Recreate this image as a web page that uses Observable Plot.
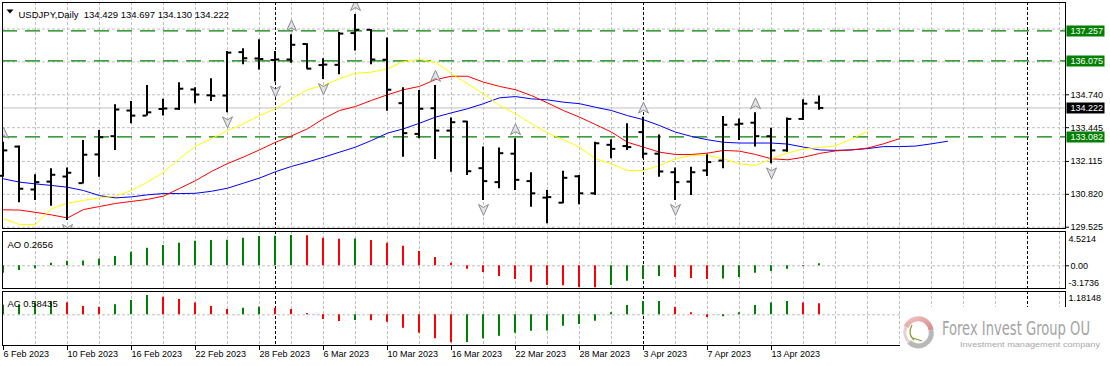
<!DOCTYPE html>
<html>
<head>
<meta charset="utf-8">
<script src="https://cdn.jsdelivr.net/npm/d3@7"></script>
<script src="https://cdn.jsdelivr.net/npm/@observablehq/plot@0.6"></script>
<style>
  html,body{margin:0;padding:0;background:#fff;}
  #chart{position:relative;width:1110px;height:366px;overflow:hidden;background:#fff;}
  #wm{position:absolute;left:900px;top:307px;width:210px;height:46px;background:#fff;}
</style>
</head>
<body>
<div id="chart"></div>
<script>
// ---------------- DATA ----------------
const symbolName = "USDJPY";
const timeframe = "Daily";
const dates = [
  "2023-02-06","2023-02-07","2023-02-08","2023-02-09","2023-02-10",
  "2023-02-13","2023-02-14","2023-02-15","2023-02-16","2023-02-17",
  "2023-02-20","2023-02-21","2023-02-22","2023-02-23","2023-02-24",
  "2023-02-27","2023-02-28","2023-03-01","2023-03-02","2023-03-03",
  "2023-03-06","2023-03-07","2023-03-08","2023-03-09","2023-03-10",
  "2023-03-13","2023-03-14","2023-03-15","2023-03-16","2023-03-17",
  "2023-03-20","2023-03-21","2023-03-22","2023-03-23","2023-03-24",
  "2023-03-27","2023-03-28","2023-03-29","2023-03-30","2023-03-31",
  "2023-04-03","2023-04-04","2023-04-05","2023-04-06","2023-04-07",
  "2023-04-10","2023-04-11","2023-04-12","2023-04-13","2023-04-14",
  "2023-04-17","2023-04-18"
];
const open = [131.55,132.70,131.01,131.32,131.52,131.26,132.39,133.11,134.12,133.92,
  134.18,134.19,134.95,134.72,134.71,136.42,136.17,136.11,136.13,136.74,
  135.91,135.92,137.17,137.30,136.12,134.41,133.20,134.21,133.33,133.69,
  131.85,131.30,132.42,131.34,130.69,130.49,131.53,130.86,132.77,132.72,
  133.27,132.42,131.69,131.32,131.76,132.15,133.57,133.64,133.11,132.55,
  133.79,134.429];
const high = [132.87,132.72,131.59,131.83,131.86,132.94,133.33,134.35,134.48,135.11,
  134.56,135.21,135.02,135.37,136.45,136.55,136.91,136.45,137.10,136.75,
  136.16,137.19,137.90,137.31,136.98,135.02,134.91,135.11,133.83,133.70,
  132.68,132.64,133.01,131.67,130.97,131.73,131.56,132.87,132.97,133.60,
  133.86,133.16,131.86,131.89,132.38,133.89,133.79,134.03,133.42,133.83,
  134.54,134.697];
const low = [131.49,130.49,130.58,130.35,129.79,131.23,131.49,132.55,133.60,133.90,
  133.90,134.12,134.39,134.48,134.03,135.92,135.72,135.24,135.98,135.76,
  135.34,135.53,136.46,135.92,134.09,132.28,133.01,132.19,131.69,131.56,
  130.58,131.04,130.97,130.31,129.66,130.45,130.41,130.77,132.22,132.55,
  132.22,131.49,130.58,130.77,131.52,131.83,132.94,132.68,132.02,132.48,
  133.73,134.130];
const close = [132.55,131.04,131.30,131.59,131.67,132.38,133.07,134.16,133.92,134.05,
  134.20,134.98,134.75,134.70,136.40,136.18,136.15,136.13,136.71,135.77,
  135.93,137.15,137.30,136.13,134.94,133.23,134.19,133.33,133.66,131.73,
  131.34,132.44,131.39,130.86,130.71,131.47,130.86,132.83,132.61,132.68,
  132.42,131.72,131.30,131.69,132.09,133.56,133.60,133.11,132.55,133.79,
  134.39,134.222];

// Alligator lines (they run past the last bar)
const lips = [129.86,129.63,129.63,130.25,130.47,130.58,130.68,130.75,130.97,131.30,
  131.69,132.22,132.72,133.01,133.33,133.60,133.92,134.19,134.58,134.94,
  135.11,135.37,135.59,135.63,135.76,136.05,136.13,136.02,135.57,135.17,
  134.78,134.32,133.99,133.60,133.24,132.97,132.68,132.22,132.02,131.76,
  131.76,131.96,132.22,132.35,132.35,132.22,132.02,131.96,132.22,132.45,
  132.61,132.66,132.73,133.00,133.29];
const teeth = [130.21,130.20,130.11,130.01,129.89,130.22,130.34,130.46,130.54,130.62,
  130.75,131.05,131.36,131.72,132.03,132.29,132.57,132.87,133.12,133.40,
  133.80,134.12,134.28,134.52,134.74,134.94,135.07,135.34,135.47,135.47,
  135.24,135.07,134.94,134.71,134.42,134.12,133.86,133.57,133.27,132.87,
  132.68,132.48,132.39,132.39,132.44,132.55,132.52,132.39,132.22,132.18,
  132.28,132.43,132.53,132.57,132.64,132.81,133.01];
const jaw = [131.43,131.30,131.23,131.17,131.10,130.97,130.77,130.68,130.72,130.80,
  130.85,130.85,130.86,130.94,131.06,131.26,131.46,131.71,131.92,132.09,
  132.28,132.48,132.68,132.94,133.23,133.40,133.62,133.86,134.03,134.19,
  134.39,134.62,134.67,134.58,134.54,134.45,134.39,134.25,134.12,133.92,
  133.76,133.53,133.27,133.10,132.97,132.87,132.84,132.84,132.84,132.80,
  132.68,132.57,132.55,132.57,132.62,132.70,132.70,132.72,132.81,132.91];

const fractalUp = [0, 18, 22, 27, 32, 40, 47];
const fractalDown = [4, 14, 17, 20, 30, 34, 42, 48];

const ao = [-1.00,-0.64,-0.41,0.35,0.62,0.65,0.90,1.26,1.85,2.39,
  2.75,3.07,3.34,3.43,3.46,3.74,3.98,4.00,4.11,4.08,
  3.74,3.61,3.62,3.43,3.07,2.66,1.94,1.13,0.35,-0.46,
  -0.91,-1.45,-1.86,-2.23,-2.67,-2.70,-2.94,-2.97,-2.67,-2.09,
  -1.86,-1.45,-1.59,-1.72,-1.86,-1.80,-1.59,-1.00,-0.77,-0.46,
  -0.09,0.2656];
const aoBefore = -1.35;
const ac = [0.50,0.53,0.64,0.68,0.64,0.44,0.39,0.53,0.76,1.02,
  0.93,0.81,0.62,0.44,0.28,0.35,0.40,0.35,0.28,0.07,
  -0.25,-0.35,-0.30,-0.32,-0.39,-0.71,-0.97,-1.27,-1.48,-1.47,
  -1.27,-1.13,-0.97,-0.87,-0.86,-0.60,-0.51,-0.34,0.11,0.49,
  0.70,0.71,0.39,0.11,-0.14,-0.10,0.11,0.49,0.63,0.70,
  0.63,0.58435];
const acBefore = 0.45;

const levels = [137.257, 136.075, 133.082];
const priceTicks = [129.525, 130.820, 132.115, 133.445, 134.740];
const priceGrid = [129.525, 130.820, 132.115, 133.445, 134.740, 136.035, 137.330];
const aoScaleLabels = [4.5214, 0, -3.1736];
const acScaleLabels = [1.18148];
const separators = [17, 40, 64];
const brandName = "Forex Invest Group OU";
const brandTagline = "Investment management company";

// ---------------- DRAWING ----------------
const chart = document.getElementById("chart");
const font = "'Liberation Sans', Arial, sans-serif";
const W = 1110;
const xDomain = [-0.0625, 66.375];
const gray = "#c0c0c0";
const dash = "3,2";
const GREEN = "#008000", RED = "#ff0000";
const n = dates.length;
const bars = dates.map((d, i) => ({i, open: open[i], high: high[i], low: low[i], close: close[i]}));
const last = bars[n - 1];
const f3 = d3.format(".3f");
const fmtDate = d3.utcFormat("%-d %b %Y");
const gridIdx = d3.range(2, 67, 2).filter(i => !separators.includes(i));
const baseStyle = {fontFamily: font, fontSize: "9px", background: "transparent", color: "black", overflow: "visible"};

const boxSym = {draw(c){c.moveTo(0,-5.5);c.lineTo(38,-5.5);c.lineTo(38,5.5);c.lineTo(0,5.5);c.closePath();}};
const arrowUp = {draw(c){c.moveTo(0,-6);c.lineTo(5,5);c.lineTo(0,2);c.lineTo(-5,5);c.closePath();}};
const arrowDown = {draw(c){c.moveTo(0,6);c.lineTo(5,-5);c.lineTo(0,-2);c.lineTo(-5,-5);c.closePath();}};
const triDown = {draw(c){c.moveTo(-3.5,-2);c.lineTo(3.5,-2);c.lineTo(0,2);c.closePath();}};

function place(el, top) {
  el.style.position = "absolute";
  el.style.left = "0px";
  el.style.top = top + "px";
  chart.appendChild(el);
}

const commonGrid = [
  Plot.ruleX(gridIdx, {stroke: gray, strokeDasharray: dash})
];

// Main price panel
const mainPlot = Plot.plot({
  width: W, height: 230, marginLeft: 2, marginRight: 45, marginTop: 2, marginBottom: 2,
  x: {domain: xDomain, axis: null},
  y: {domain: [129.474, 138.375]},
  style: baseStyle,
  marks: [
    ...commonGrid,
    Plot.ruleY(priceGrid, {stroke: gray, strokeDasharray: dash}),
    Plot.ruleX(separators, {stroke: "black", strokeDasharray: dash}),
    Plot.ruleY(levels, {stroke: GREEN, strokeDasharray: "15,8", strokeWidth: 1.3}),
    Plot.ruleY([last.close], {stroke: gray}),
    Plot.line(jaw, {x: (d, i) => i, y: d => d, stroke: "#0000ff", strokeWidth: 1}),
    Plot.line(teeth, {x: (d, i) => i, y: d => d, stroke: "#ff0000", strokeWidth: 1}),
    Plot.line(lips, {x: (d, i) => i, y: d => d, stroke: "#ffff00", strokeWidth: 1}),
    Plot.ruleX(bars, {x: "i", y1: "low", y2: "high", stroke: "black", strokeWidth: 2, dx: -0.5}),
    Plot.ruleY(bars, {y: "open", x1: d => d.i - 0.25, x2: "i", stroke: "black", strokeWidth: 2, dx: -0.5}),
    Plot.ruleY(bars, {y: "close", x1: "i", x2: d => d.i + 0.3, stroke: "black", strokeWidth: 2, dx: -0.5}),
    Plot.dot(fractalUp, {x: d => d, y: d => high[d], dy: -9, symbol: arrowUp, fill: "#e2e2ea", stroke: "#8c8c8c", strokeWidth: 1, clip: true}),
    Plot.dot(fractalDown, {x: d => d, y: d => low[d], dy: 9, symbol: arrowDown, fill: "#e2e2ea", stroke: "#8c8c8c", strokeWidth: 1, clip: true}),
    Plot.frame({stroke: "black"}),
    Plot.axisY(priceTicks, {anchor: "right", tickSize: 3, tickPadding: 2, tickFormat: f3, label: null, fontSize: 9}),
    Plot.dot(levels, {y: d => d, frameAnchor: "right", dx: 1, symbol: boxSym, fill: GREEN}),
    Plot.text(levels, {y: d => d, frameAnchor: "right", dx: 5, textAnchor: "start", text: d => f3(d), fill: "white", fontSize: 9}),
    Plot.dot([last.close], {y: d => d, frameAnchor: "right", dx: 1, symbol: boxSym, fill: "black"}),
    Plot.text([last.close], {y: d => d, frameAnchor: "right", dx: 5, textAnchor: "start", text: d => f3(d), fill: "white", fontSize: 9}),
    Plot.dot([0], {frameAnchor: "top-left", dx: 7.5, dy: 9, symbol: triDown, fill: "black"}),
    Plot.text([`${symbolName},${timeframe}  ${f3(last.open)} ${f3(last.high)} ${f3(last.low)} ${f3(last.close)}`],
      {frameAnchor: "top-left", dx: 16, dy: 9, textAnchor: "start", text: d => d, fontSize: 9.5, fill: "black"})
  ]
});
place(mainPlot, 0);

// AO panel
const aoData = ao.map((v, i) => ({i, v, color: v > (i ? ao[i - 1] : aoBefore) ? GREEN : RED}));
const aoPlot = Plot.plot({
  width: W, height: 61, marginLeft: 2, marginRight: 45, marginTop: 2, marginBottom: 2,
  x: {domain: xDomain, axis: null},
  y: {domain: [-3.08, 4.654]},
  style: baseStyle,
  marks: [
    ...commonGrid,
    Plot.ruleY([0], {stroke: gray, strokeDasharray: dash}),
    Plot.ruleX(separators, {stroke: "black", strokeDasharray: dash}),
    Plot.ruleX(aoData, {x: "i", y1: 0, y2: "v", stroke: "color", strokeWidth: 2, dx: -0.5}),
    Plot.frame({stroke: "black"}),
    Plot.axisY([aoScaleLabels[1]], {anchor: "right", tickSize: 3, tickPadding: 2, tickFormat: d3.format(".2f"), label: null, fontSize: 9}),
    Plot.text([aoScaleLabels[0]], {y: d => d, frameAnchor: "right", dx: 3, dy: 7, textAnchor: "start", text: d => String(d), fontSize: 9}),
    Plot.text([aoScaleLabels[2]], {y: d => d, frameAnchor: "right", dx: 3, dy: -6, textAnchor: "start", text: d => String(d), fontSize: 9}),
    Plot.text([`AO ${ao[n - 1]}`], {frameAnchor: "top-left", dx: 5, dy: 10, textAnchor: "start", text: d => d, fontSize: 9.5})
  ]
});
place(aoPlot, 229);

// AC panel with date axis
const acData = ac.map((v, i) => ({i, v, color: v > (i ? ac[i - 1] : acBefore) ? GREEN : RED}));
const acPlot = Plot.plot({
  width: W, height: 77, marginLeft: 2, marginRight: 45, marginTop: 2, marginBottom: 21,
  x: {domain: xDomain},
  y: {domain: [-1.624, 1.233], axis: null},
  style: baseStyle,
  marks: [
    ...commonGrid,
    Plot.ruleY([0], {stroke: gray, strokeDasharray: dash}),
    Plot.ruleX(separators, {stroke: "black", strokeDasharray: dash}),
    Plot.ruleX(acData, {x: "i", y1: 0, y2: "v", stroke: "color", strokeWidth: 2, dx: -0.5}),
    Plot.frame({stroke: "black"}),
    Plot.text(acScaleLabels, {y: d => d, frameAnchor: "right", dx: 3, dy: 6, textAnchor: "start", text: d => String(d), fontSize: 9}),
    Plot.text([`AC ${ac[n - 1]}`], {frameAnchor: "top-left", dx: 5, dy: 9, textAnchor: "start", text: d => d, fontSize: 9.5}),
    Plot.axisX(d3.range(0, n, 4), {anchor: "bottom", tickSize: 5, tickPadding: 0, textAnchor: "start",
      tickFormat: i => fmtDate(new Date(dates[i] + "T00:00:00Z")), label: null, fontSize: 9})
  ]
});
place(acPlot, 289);

// Watermark (overlays the lower-right corner like the original)
const wm = document.createElement("div");
wm.id = "wm";
wm.innerHTML = `
<svg width="210" height="46" xmlns="http://www.w3.org/2000/svg">
  <defs>
    <linearGradient id="gPink" x1="0" y1="0" x2="1" y2="1">
      <stop offset="0" stop-color="#f0c0c0"/><stop offset="1" stop-color="#d88a8a"/>
    </linearGradient>
  </defs>
  <path d="M 6 20 A 13 13 0 0 1 31 23" fill="none" stroke="url(#gPink)" stroke-width="5"/>
  <path d="M 31 23 A 13 13 0 0 1 9 35" fill="none" stroke="#b8b8b8" stroke-width="5"/>
  <path d="M 9 35 A 13 13 0 0 1 6 20" fill="none" stroke="#e8d0d0" stroke-width="3"/>
  <path d="M 12 18 Q 7 27 14 33" fill="none" stroke="#8a9a30" stroke-width="1.3"/>
  <path d="M 13 31 L 22 34" fill="none" stroke="#8a9a30" stroke-width="1.2"/>
  <g id="brandG"><text id="brandT" x="0" y="0" font-family="'DejaVu Sans Condensed','Liberation Sans',sans-serif" font-size="20" fill="#a4a4a4"></text></g>
  <g id="tagG"><text id="tagT" x="0" y="0" font-family="'Liberation Sans',Arial,sans-serif" font-size="8" fill="#a8a8a8"></text></g>
</svg>`;
chart.appendChild(wm);
function fitText(gId, tId, str, x, y, width) {
  const t = wm.querySelector("#" + tId);
  t.textContent = str;
  const len = t.getComputedTextLength() || width;
  wm.querySelector("#" + gId).setAttribute("transform", `translate(${x},${y}) scale(${width / len},1)`);
}
fitText("brandG", "brandT", brandName, 42, 27.5, 148);
fitText("tagG", "tagT", brandTagline, 60, 39.5, 140);
</script>
</body>
</html>
